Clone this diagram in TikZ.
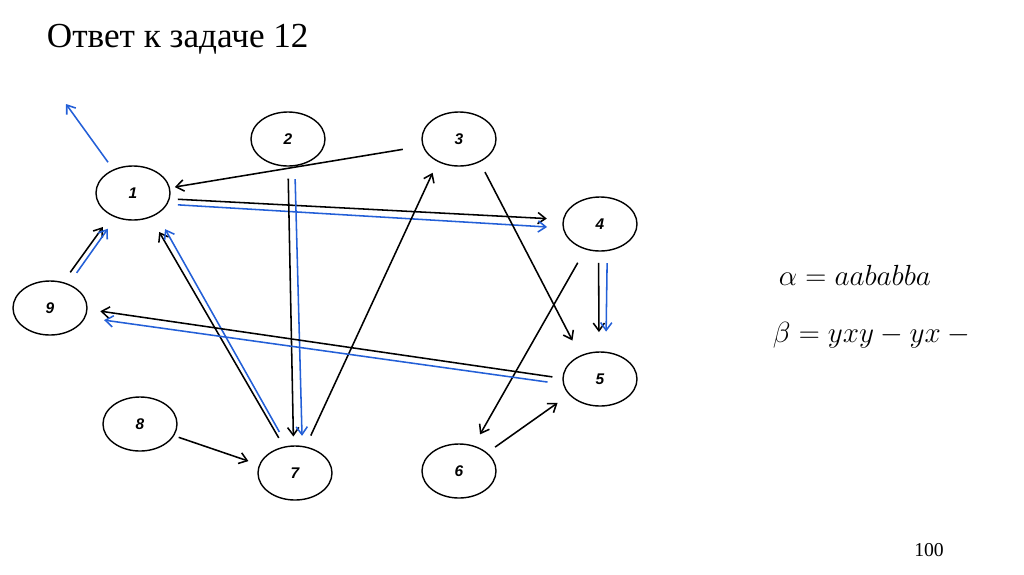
\documentclass[tikz,border=0pt]{standalone}
\usepackage{fontspec}
\setmainfont{Liberation Serif}
\setsansfont{Liberation Sans}
\usepackage{tikz}
\usetikzlibrary{arrows.meta, shapes.geometric}
\definecolor{edgeblue}{RGB}{35,95,215}

\begin{document}
\begin{tikzpicture}[
  x=0.025cm, y=-0.025cm,
  vert/.style={ellipse, draw, line width=1pt, minimum width=1.85cm,
               minimum height=1.35cm, inner sep=0pt,
               font=\sffamily\bfseries\itshape\fontsize{11}{13}\selectfont},
  arr/.style={-{Straight Barb[length=5.5pt, width=8pt]}, line width=1.1pt},
  barr/.style={arr, color=edgeblue},
]
  \useasboundingbox (0,0) rectangle (1024,574);

  \node[anchor=base west, font=\fontsize{25}{29}\selectfont] (title) at (42,47)
    {Ответ к задаче 12};

  \node[vert] (v1) at (133,193) {1};
  \node[vert] (v2) at (288,139) {2};
  \node[vert] (v3) at (459,139) {3};
  \node[vert] (v4) at (600,224) {4};
  \node[vert] (v5) at (600,379) {5};
  \node[vert] (v6) at (459,471) {6};
  \node[vert] (v7) at (295,473) {7};
  \node[vert] (v8) at (140,424) {8};
  \node[vert] (v9) at (50,308) {9};
  \coordinate (out1) at (66,104);

  \draw[barr, shorten <=0.22cm] (v1.130) -- (out1);
  \draw[arr, shorten <=0.5cm, shorten >=0.12cm] (v3.191) -- (v1.8);
  \draw[arr, shorten <=0.2cm, shorten >=0.4cm] (v1.-9) -- (v4.173);
  \draw[barr, shorten <=0.26cm, shorten >=0.39cm] (v1.-18) -- (v4.186);
  \draw[arr, shorten <=0.3cm, shorten >=0.22cm] (v2.-90) -- (v7.93);
  \draw[barr, shorten <=0.32cm, shorten >=0.25cm] (v2.-76) -- (v7.75);
  \draw[arr, shorten <=0.3cm, shorten >=0.3cm] (v7.68) -- (v3.227);
  \draw[arr, shorten <=0.25cm, shorten >=0.42cm] (v7.113) -- (v1.-54);
  \draw[barr, shorten <=0.4cm, shorten >=0.42cm] (v7.106) -- (v1.-42);
  \draw[arr, shorten <=0.28cm, shorten >=0.42cm] (v3.-48) -- (v5.130);
  \draw[arr, shorten <=0.38cm, shorten >=0.32cm] (v4.-120) -- (v6.60);
  \draw[arr, shorten <=0.28cm, shorten >=0.48cm] (v4.-93) -- (v5.92);
  \draw[barr, shorten <=0.3cm, shorten >=0.5cm] (v4.-75) -- (v5.78);
  \draw[arr, shorten <=0.25cm, shorten >=0.32cm] (v5.179) -- (v9.-2);
  \draw[barr, shorten <=0.39cm, shorten >=0.47cm] (v5.188) -- (v9.-15);
  \draw[arr, shorten <=0.3cm, shorten >=0.35cm] (v9.63) -- (v1.226);
  \draw[barr, shorten <=0.34cm, shorten >=0.34cm] (v9.52) -- (v1.235);
  \draw[arr, shorten <=0.12cm, shorten >=0.28cm] (v8.-19) -- (v7.167);
  \draw[arr, shorten <=0.24cm, shorten >=0.35cm] (v6.33) -- (v5.207);

  \node[anchor=base west, font=\fontsize{21}{25}\selectfont] (alpha) at (774,285)
    {$\alpha = aababba$};
  \node[anchor=base west, font=\fontsize{21}{25}\selectfont] (beta) at (768,342)
    {$\beta = yxy - yx -{}$};

  \node[font=\fontsize{14}{16}\selectfont] (pnum) at (929,550) {100};
\end{tikzpicture}
\end{document}
